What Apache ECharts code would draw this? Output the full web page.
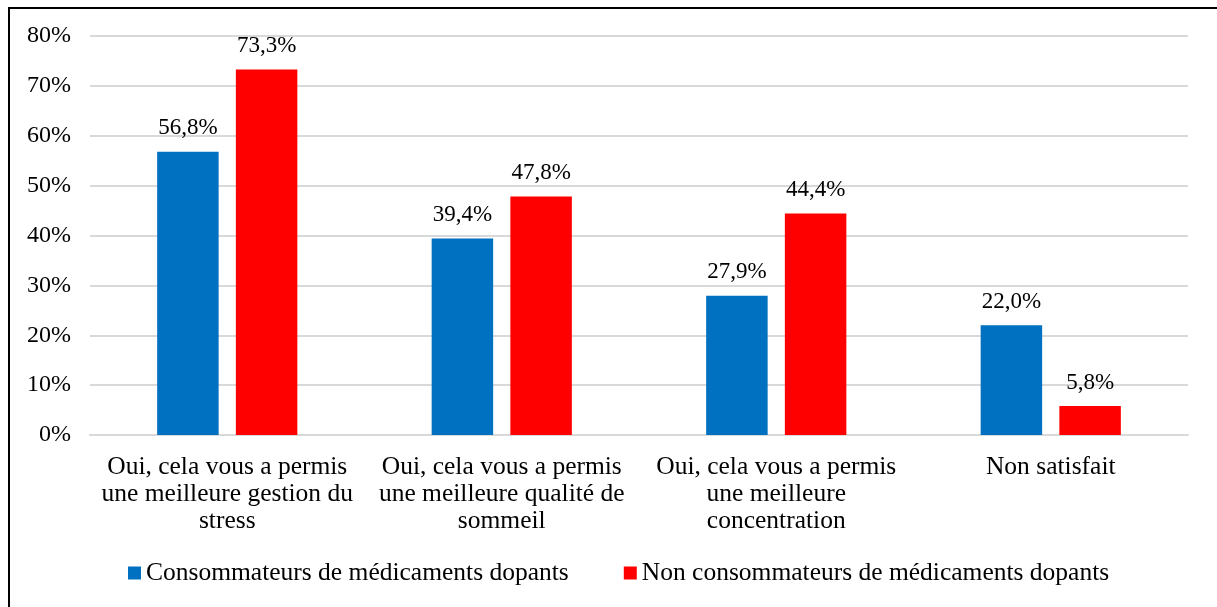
<!DOCTYPE html>
<html>
<head>
<meta charset="utf-8">
<script src="https://cdn.jsdelivr.net/npm/echarts@6/dist/echarts.min.js"></script>
<style>
  html, body { margin: 0; padding: 0; background: #fff; overflow: hidden; }
  #frame { position: absolute; left: 8px; top: 7px; width: 1230px; height: 620px; border: 2px solid #000; box-sizing: border-box; }
  #chart { position: absolute; left: 0; top: 0; width: 1217px; height: 607px; }
</style>
</head>
<body>
<div id="frame"></div>
<div id="chart"></div>
<script>
const categories = [
  'Oui, cela vous a permis\nune meilleure gestion du\nstress',
  'Oui, cela vous a permis\nune meilleure qualité de\nsommeil',
  'Oui, cela vous a permis\nune meilleure\nconcentration',
  'Non satisfait'
];
const seriesNames = ['Consommateurs de médicaments dopants', 'Non consommateurs de médicaments dopants'];
const consommateurs = [56.8, 39.4, 27.9, 22.0];
const nonConsommateurs = [73.3, 47.8, 44.4, 5.8];
const yTicks = { min: 0, max: 80, interval: 10 };

const font = '"Liberation Serif", "Times New Roman", serif';
const fmt = p => p.value.toFixed(1).replace('.', ',') + '%';

const chart = echarts.init(document.getElementById('chart'));
chart.setOption({
  animation: false,
  textStyle: { fontFamily: font },
  grid: { left: 90, right: 29, top: 36, bottom: 172 },
  legend: {
    data: seriesNames,
    top: 560,
    left: 128,
    padding: 0,
    itemWidth: 13,
    itemHeight: 13,
    itemGap: 55,
    icon: 'rect',
    textStyle: { fontFamily: font, fontSize: 25.5, color: '#000' }
  },
  xAxis: {
    type: 'category',
    data: categories,
    axisTick: { show: false },
    axisLine: { lineStyle: { color: '#d9d9d9', width: 2 } },
    axisLabel: { fontFamily: font, fontSize: 25.5, color: '#000', lineHeight: 27, margin: 19, interval: 0 }
  },
  yAxis: {
    type: 'value',
    min: yTicks.min, max: yTicks.max, interval: yTicks.interval,
    axisLine: { show: false },
    axisTick: { show: false },
    splitLine: { lineStyle: { color: '#d9d9d9', width: 2 } },
    axisLabel: { fontFamily: font, fontSize: 24, color: '#000', margin: 19, formatter: v => v + '%' }
  },
  series: [
    {
      name: seriesNames[0], type: 'bar', data: consommateurs,
      barWidth: '22.4%', barGap: '28%',
      itemStyle: { color: '#0070C0' },
      label: { show: true, position: 'top', distance: 12, formatter: fmt, fontFamily: font, fontSize: 23, color: '#000' }
    },
    {
      name: seriesNames[1], type: 'bar', data: nonConsommateurs,
      barWidth: '22.4%',
      itemStyle: { color: '#FF0000' },
      label: { show: true, position: 'top', distance: 12, formatter: fmt, fontFamily: font, fontSize: 23, color: '#000' }
    }
  ]
});
</script>
</body>
</html>
